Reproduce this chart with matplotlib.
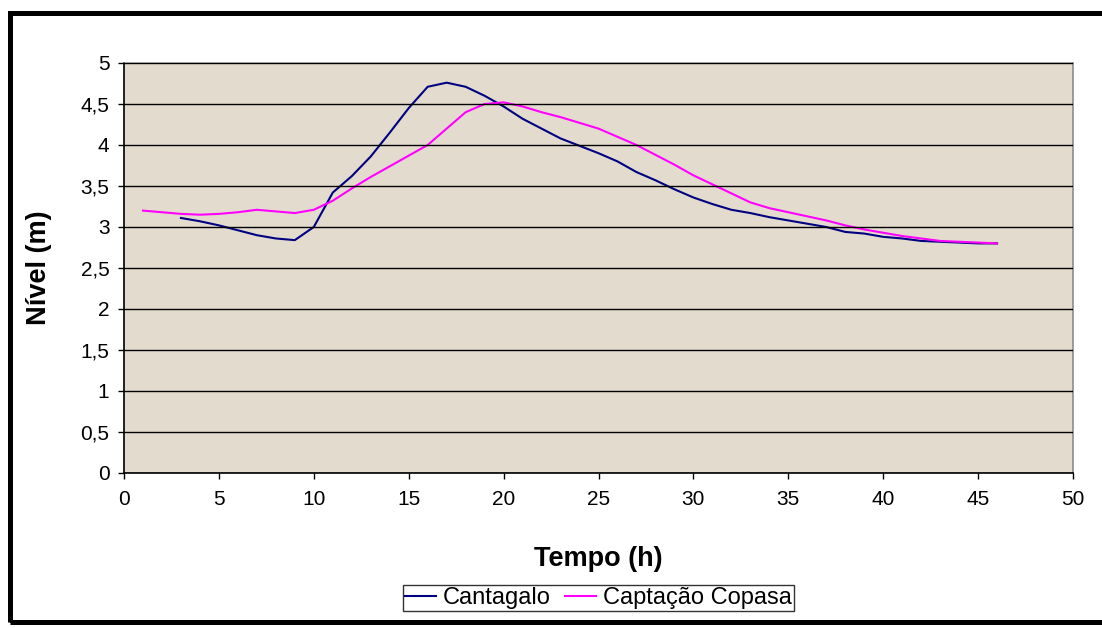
#!/usr/bin/env python3
"""
Nivel x Tempo: Cantagalo vs Captacao Copasa.
Saves plot as out.png
"""

import numpy as np
import matplotlib.pyplot as plt
from matplotlib.patches import Rectangle

# Cantagalo, hourly readings (h, m)
cantagalo_t = list(range(3, 47))
cantagalo_nivel = [3.11, 3.07, 3.02, 2.96, 2.90, 2.86, 2.84, 3.00, 3.42, 3.62,
                   3.86, 4.15, 4.45, 4.71, 4.76, 4.71, 4.60, 4.47, 4.32, 4.20,
                   4.08, 3.99, 3.90, 3.80, 3.67, 3.57, 3.46, 3.36, 3.28, 3.21,
                   3.17, 3.12, 3.08, 3.04, 3.00, 2.94, 2.92, 2.88, 2.86, 2.83,
                   2.82, 2.81, 2.80, 2.80]

# Captacao Copasa, hourly readings (h, m)
copasa_t = list(range(1, 47))
copasa_nivel = [3.20, 3.18, 3.16, 3.15, 3.16, 3.18, 3.21, 3.19, 3.17, 3.21,
                3.32, 3.47, 3.61, 3.74, 3.87, 4.00, 4.20, 4.40, 4.50, 4.52,
                4.47, 4.40, 4.34, 4.27, 4.20, 4.10, 4.00, 3.88, 3.76, 3.63,
                3.52, 3.41, 3.30, 3.23, 3.18, 3.13, 3.08, 3.02, 2.97, 2.93,
                2.89, 2.86, 2.83, 2.82, 2.81, 2.80]

xticks = np.arange(0, 51, 5)
yticks = np.arange(0, 5.01, 0.5)
ytick_labels = [f"{v:g}".replace('.', ',') for v in yticks]


def main():
    plt.rcParams['font.family'] = ['Liberation Sans', 'DejaVu Sans']

    W, H = 1102, 628
    fig = plt.figure(figsize=(W / 100, H / 100), dpi=100)
    ax = fig.add_axes([124 / W, 1 - 473 / H, 949 / W, 410 / H])
    ax.set_facecolor('#E3DCCE')

    ax.plot(cantagalo_t, cantagalo_nivel, color='#000080', lw=1.5, label='Cantagalo')
    ax.plot(copasa_t, copasa_nivel, color='#FF00FF', lw=1.5, label='Captação Copasa')

    ax.set_xlim(0, 50)
    ax.set_ylim(0, 5)
    ax.set_xticks(xticks)
    ax.set_yticks(yticks)
    ax.set_yticklabels(ytick_labels)
    ax.tick_params(axis='both', direction='out', length=4.5, width=1, labelsize=15)
    ax.tick_params(axis='x', pad=8)
    ax.tick_params(axis='y', pad=6)

    ax.grid(True, axis='y', color='black', lw=1)
    ax.set_axisbelow(False)

    for side in ('left', 'bottom'):
        ax.spines[side].set_color('black')
        ax.spines[side].set_linewidth(1.2)
    for side in ('top', 'right'):
        ax.spines[side].set_color('#8C8C8C')
        ax.spines[side].set_linewidth(1.2)

    ax.set_xlabel('Tempo (h)', fontsize=19.5, fontweight='bold')
    ax.set_ylabel('Nível (m)', fontsize=19.5, fontweight='bold')
    ax.xaxis.set_label_coords(0.5, -0.178)
    ax.yaxis.set_label_coords(-0.076, 0.5)

    leg = ax.legend(loc='center', bbox_to_anchor=(0.5, -0.305), ncol=2,
                    fontsize=17, frameon=True, fancybox=False, handlelength=1.3,
                    handletextpad=0.3, columnspacing=0.6, borderpad=0.1,
                    borderaxespad=0)
    leg.get_frame().set_edgecolor('black')
    leg.get_frame().set_linewidth(1)

    # thick outer chart frame (right edge falls outside the picture)
    frame = Rectangle((9.5 / W, 1 - 622 / H), 1.0, (622 - 13) / H, fill=False,
                      lw=3.6, edgecolor='black', transform=fig.transFigure,
                      figure=fig)
    fig.patches.append(frame)

    fig.savefig('out.png', dpi=100)
    plt.close(fig)


if __name__ == '__main__':
    main()
